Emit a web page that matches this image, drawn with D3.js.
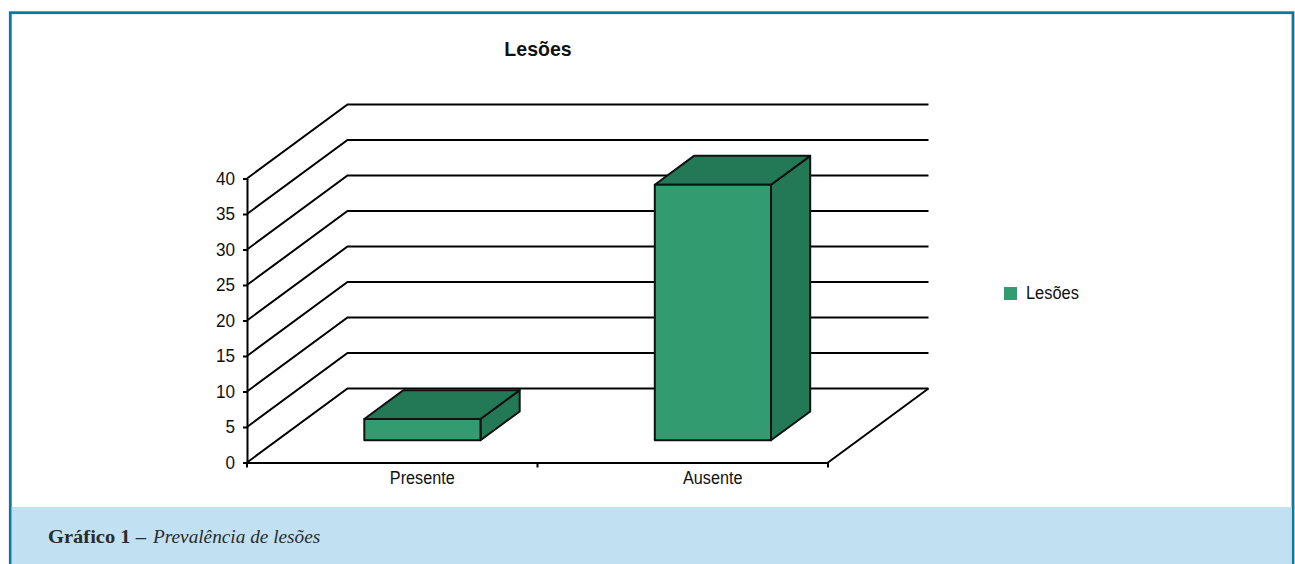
<!DOCTYPE html>
<html>
<head>
<meta charset="utf-8">
<script src="https://cdn.jsdelivr.net/npm/d3@7"></script>
<style>
  html, body { margin: 0; padding: 0; background: #fff; overflow: hidden; }
  text { font-family: "Liberation Sans", Arial, sans-serif; fill: #111; }
  .caption text { font-family: "Liberation Serif", serif; fill: #2b2b2b; }
  .domain, .tick line { stroke: #000; stroke-width: 2px; }
</style>
</head>
<body>
<div id="chart"></div>
<script>
// values
var categories = ['Presente', 'Ausente'];
var lesoes = [3, 36];
var yTicks = [0, 5, 10, 15, 20, 25, 30, 35, 40];
var seriesName = 'Lesões';
var chartTitle = 'Lesões';

var width = 1295, height = 564;
var faceColor = '#339b70', sideColor = '#237856';

// the 3d box: offset from the front of the floor to the back wall
var depthX = 100.5, depthY = -74;

var svg = d3.select('#chart').append('svg')
  .attr('width', width)
  .attr('height', height)
  .style('display', 'block');

var x = d3.scaleBand().domain(categories).range([247, 828]);
var y = d3.scaleLinear().domain([0, 40]).range([462.5, 178.5]);
// 0 = front of floor, 1 = back wall
var z = d3.scaleLinear().domain([0, 1]).range([0, 1]);

function project(px, py, d) {
  return [px + z(d) * depthX, py + z(d) * depthY];
}

// narrow the glyphs like the arial narrow-ish text of the original
function squeeze(sel, k) {
  sel.each(function() {
    var len = this.getComputedTextLength();
    d3.select(this).attr('textLength', len * k).attr('lengthAdjust', 'spacingAndGlyphs');
  });
}

// frame and caption band
svg.append('rect')
  .attr('x', 10.3).attr('y', 12.7)
  .attr('width', 1282.7).attr('height', 560)
  .attr('fill', '#fff')
  .attr('stroke', '#0b77a3')
  .attr('stroke-width', 2.8);
var caption = svg.append('g').attr('class', 'caption');
caption.append('rect')
  .attr('x', 11.7).attr('y', 507)
  .attr('width', 1280).attr('height', 57)
  .attr('fill', '#c1e1f2');
caption.append('text')
  .attr('x', 48).attr('y', 543)
  .style('font-size', '18px')
  .style('font-weight', 'bold')
  .text('Gráfico 1 –')
  .call(squeeze, 1.14);
caption.append('text')
  .attr('x', 153).attr('y', 543)
  .style('font-size', '18px')
  .style('font-style', 'italic')
  .text('Prevalência de lesões')
  .call(squeeze, 1.07);

// walls
var grid = svg.append('g');
yTicks.forEach(function(t) {
  var a = project(x.range()[0], y(t), 0),
      b = project(x.range()[0], y(t), 1),
      c = project(x.range()[1], y(t), 1);
  grid.append('polyline')
    .attr('points', [a, b, c].join(' '))
    .attr('fill', 'none')
    .attr('stroke', '#000')
    .attr('stroke-width', 2);
});
// right edge of the floor
var fr = project(x.range()[1], y(0), 0), br = project(x.range()[1], y(0), 1);
grid.append('line')
  .attr('x1', fr[0]).attr('y1', fr[1])
  .attr('x2', br[0]).attr('y2', br[1])
  .attr('stroke', '#000').attr('stroke-width', 2);

// axes
var yAxis = svg.append('g')
  .attr('transform', 'translate(' + x.range()[0] + ',0)')
  .call(d3.axisLeft(y).tickValues(yTicks).tickSize(4).tickSizeOuter(0).tickPadding(8));
yAxis.selectAll('text')
  .style('font-size', '18px')
  .call(squeeze, 0.95);

var xAxis = svg.append('g')
  .attr('transform', 'translate(0,' + y(0) + ')')
  .call(d3.axisBottom(x).tickSize(0).tickPadding(9));
xAxis.selectAll('.tick text')
  .attr('dx', 30)
  .style('font-size', '18px')
  .call(squeeze, 0.9);
// ticks sit on the band edges
xAxis.selectAll('line.edge')
  .data([x.range()[0], x(categories[1]), x.range()[1]])
  .enter().append('line')
  .attr('class', 'edge')
  .attr('x1', function(d) { return d; })
  .attr('x2', function(d) { return d; })
  .attr('y1', 0).attr('y2', 5)
  .attr('stroke', '#000').attr('stroke-width', 2);

// bars
var barInner = 0.4, zFront = 0.3, zBack = 0.69;
var bars = svg.append('g').selectAll('g')
  .data(categories.map(function(c, i) { return { cat: c, v: lesoes[i] }; }))
  .enter().append('g')
  .attr('stroke', '#111')
  .attr('stroke-width', 2)
  .attr('stroke-linejoin', 'round');

function barPts(d) {
  var x0 = x(d.cat) + x.bandwidth() * (1 - barInner) / 2,
      x1 = x0 + x.bandwidth() * barInner,
      y0 = y(0),
      y1 = y(d.v);
  return {
    fbl: project(x0, y0, zFront), fbr: project(x1, y0, zFront),
    ftl: project(x0, y1, zFront), ftr: project(x1, y1, zFront),
    bbr: project(x1, y0, zBack), btl: project(x0, y1, zBack), btr: project(x1, y1, zBack)
  };
}
bars.append('polygon')
  .attr('fill', sideColor)
  .attr('points', function(d) { var p = barPts(d); return [p.ftr, p.btr, p.bbr, p.fbr].join(' '); });
bars.append('polygon')
  .attr('fill', sideColor)
  .attr('points', function(d) { var p = barPts(d); return [p.ftl, p.btl, p.btr, p.ftr].join(' '); });
bars.append('polygon')
  .attr('fill', faceColor)
  .attr('points', function(d) { var p = barPts(d); return [p.ftl, p.ftr, p.fbr, p.fbl].join(' '); });

// title
svg.append('text')
  .attr('x', 538).attr('y', 56)
  .attr('text-anchor', 'middle')
  .style('font-size', '21px')
  .style('font-weight', 'bold')
  .text(chartTitle)
  .call(squeeze, 0.93);

// legend
svg.append('rect')
  .attr('x', 1004).attr('y', 287)
  .attr('width', 13).attr('height', 13)
  .attr('fill', faceColor);
svg.append('text')
  .attr('x', 1026).attr('y', 299)
  .style('font-size', '18px')
  .text(seriesName)
  .call(squeeze, 0.91);
</script>
</body>
</html>
